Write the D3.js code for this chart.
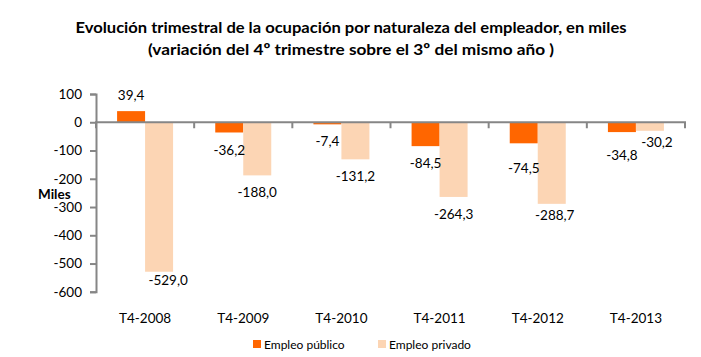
<!DOCTYPE html>
<html>
<head>
<meta charset="utf-8">
<script src="https://cdn.jsdelivr.net/npm/d3@7"></script>
<style>
  html, body { margin: 0; padding: 0; background: #fff; }
  svg { display: block; }
  text { font-family: Lato, "Open Sans", sans-serif; }
</style>
</head>
<body>
<svg id="chart" width="701" height="357"></svg>
<script>
// ---- data ----
const categories = ["T4-2008", "T4-2009", "T4-2010", "T4-2011", "T4-2012", "T4-2013"];
const publicValues = [39.4, -36.2, -7.4, -84.5, -74.5, -34.8];
const privateValues = [-529.0, -188.0, -131.2, -264.3, -288.7, -30.2];
const seriesNames = ["Empleo público", "Empleo privado"];
const yTicks = [100, 0, -100, -200, -300, -400, -500, -600];
const titleLines = [
  "Evolución trimestral de la ocupación por naturaleza del empleador, en miles",
  "(variación del 4º trimestre  sobre el 3º del  mismo año )"
];
const yAxisTitle = "Miles";

// ---- layout / style ----
const colors = ["#FF6600", "#FCD5B4"];
const axisColor = "#868686";
// small label nudges (px) relative to the default position below/above bar end
const pubNudgeY = [0, 1, 0, 0, 8, 6];
const privNudgeY = [-9, 0, 0, 0, -6, -6];
const privNudgeX = [9, 0, 0, 0, 3, 7];

const svg = d3.select("#chart");
const x = d3.scaleBand().domain(categories).range([96, 685]).paddingInner(0).paddingOuter(0);
const y = d3.scaleLinear().domain([-600, 100]).range([291.8, 94]);
const barW = 28;

const fmt = v => d3.format(".1f")(v).replace("\u2212", "-").replace(".", ",");

// title
svg.selectAll("text.title").data(titleLines).join("text")
  .attr("class", "title")
  .attr("x", 351).attr("y", (d, i) => 33 + i * 22)
  .attr("text-anchor", "middle")
  .attr("font-weight", "bold").attr("font-size", 16).attr("fill", "#000")
  .attr("textLength", (d, i) => i === 0 ? 551 : 406)
  .attr("lengthAdjust", "spacingAndGlyphs")
  .text(d => d);

// bars
const g = svg.append("g");
const series = [publicValues, privateValues];
series.forEach((vals, s) => {
  g.selectAll("rect.s" + s).data(vals).join("rect")
    .attr("class", "s" + s)
    .attr("x", (d, i) => x(categories[i]) + x.bandwidth() / 2 - barW + s * barW)
    .attr("width", barW)
    .attr("y", d => y(Math.max(0, d)))
    .attr("height", d => Math.abs(y(d) - y(0)))
    .attr("fill", colors[s]);
});

// y axis
const yAxis = d3.axisLeft(y).tickValues(yTicks).tickSize(6).tickPadding(8)
  .tickFormat(d => String(d));
const ya = svg.append("g").attr("transform", "translate(96,0)").call(yAxis);
ya.select(".domain").attr("stroke", axisColor).attr("stroke-width", 2);
ya.selectAll(".tick line").attr("stroke", axisColor).attr("stroke-width", 2);
ya.selectAll(".tick text").attr("font-size", 13.5).attr("fill", "#000")
  .attr("font-family", "Lato, sans-serif");

// x axis at zero
const bounds = categories.map(c => x(c)).concat([x.range()[1]]);
svg.append("line").attr("x1", 95).attr("x2", 686).attr("y1", y(0)).attr("y2", y(0))
  .attr("stroke", axisColor).attr("stroke-width", 2);
svg.selectAll("line.xt").data(bounds).join("line").attr("class", "xt")
  .attr("x1", d => d).attr("x2", d => d).attr("y1", y(0)).attr("y2", y(0) + 6)
  .attr("stroke", axisColor).attr("stroke-width", 2);

// category labels
svg.selectAll("text.cat").data(categories).join("text").attr("class", "cat")
  .attr("x", d => x(d) + x.bandwidth() / 2).attr("y", 323)
  .attr("text-anchor", "middle").attr("font-size", 13.5).attr("fill", "#000")
  .text(d => d);

// value labels
svg.selectAll("text.lp").data(publicValues).join("text").attr("class", "lp")
  .attr("x", (d, i) => x(categories[i]) + x.bandwidth() / 2 - barW / 2)
  .attr("y", (d, i) => (d >= 0 ? y(d) - 11 : y(d) + 22) + pubNudgeY[i])
  .attr("text-anchor", "middle").attr("font-size", 13.5).attr("fill", "#000")
  .text(d => fmt(d));
svg.selectAll("text.lv").data(privateValues).join("text").attr("class", "lv")
  .attr("x", (d, i) => x(categories[i]) + x.bandwidth() / 2 + barW / 2 + privNudgeX[i])
  .attr("y", (d, i) => (d >= 0 ? y(d) - 11 : y(d) + 22) + privNudgeY[i])
  .attr("text-anchor", "middle").attr("font-size", 13.5).attr("fill", "#000")
  .text(d => fmt(d));

// y axis title
svg.append("text").attr("x", 38).attr("y", 199)
  .attr("font-weight", "bold").attr("font-size", 13.5).attr("fill", "#000")
  .text(yAxisTitle);

// legend
const legX = [253, 378];
const lg = svg.selectAll("g.leg").data(seriesNames).join("g").attr("class", "leg")
  .attr("transform", (d, i) => `translate(${legX[i]},340)`);
lg.append("rect").attr("width", 8).attr("height", 8).attr("fill", (d, i) => colors[i]);
lg.append("text").attr("x", 11).attr("y", 8.5).attr("font-size", 12).attr("fill", "#000")
  .text(d => d);
</script>
</body>
</html>
